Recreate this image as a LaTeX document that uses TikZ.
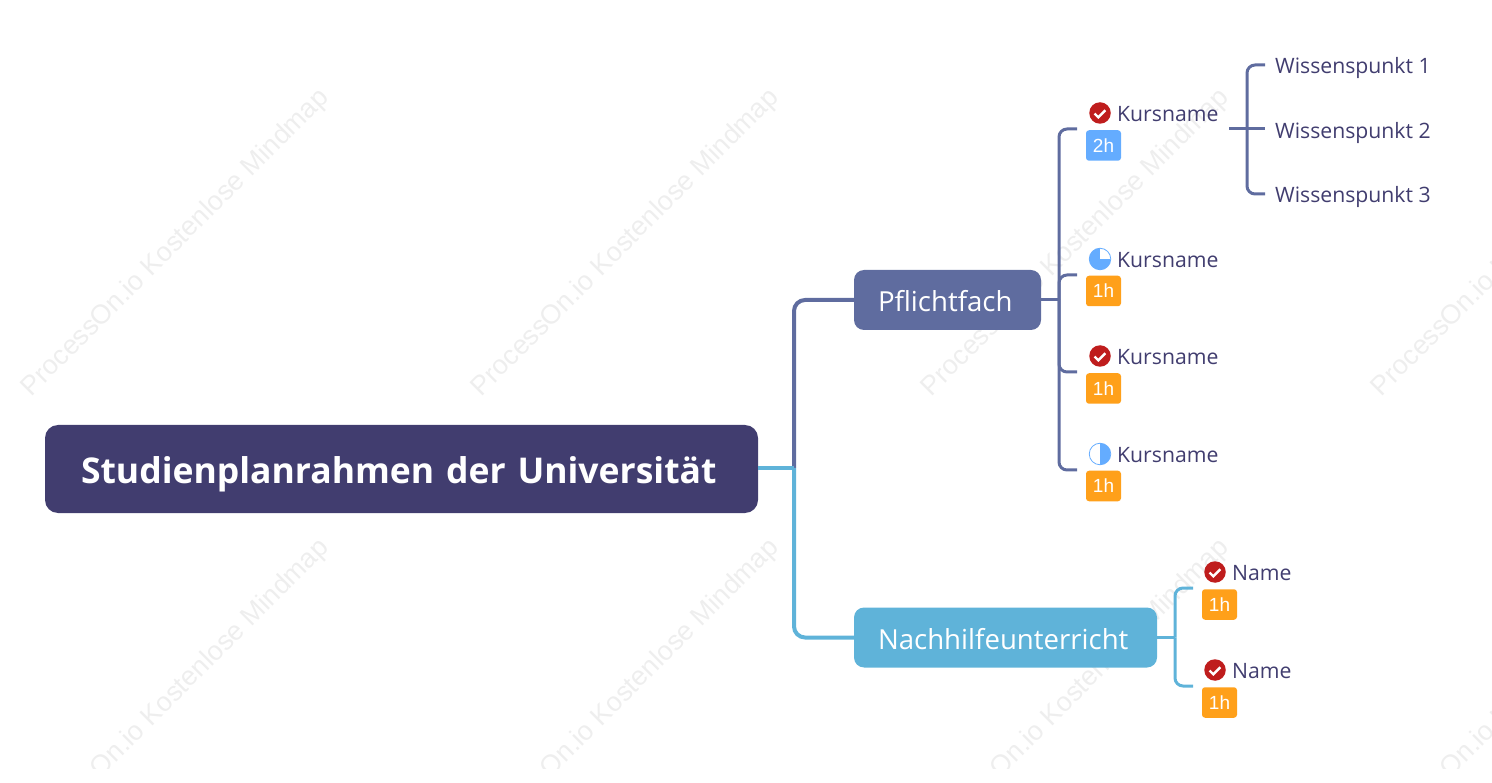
\documentclass[tikz,border=0pt]{standalone}
\usepackage{fontspec}
\setmainfont{Open Sans}
\newfontfamily\badgefont{Liberation Sans}
\definecolor{rootcol}{HTML}{413D6F}
\definecolor{pfcol}{HTML}{5F6C9F}
\definecolor{nhcol}{HTML}{5FB3D9}
\definecolor{okred}{HTML}{BF1D1D}
\definecolor{progblue}{HTML}{64ACFF}
\definecolor{badgeorange}{HTML}{FFA01A}
\definecolor{markgray}{HTML}{EEEEEE}
\tikzset{
  rootbox/.style={fill=rootcol,rounded corners=13pt,text=white,font=\fontsize{35.5}{40}\selectfont\bfseries,minimum width=713pt,minimum height=88pt,inner sep=0pt,text width=641pt,align=left,text height=28pt,text depth=0pt},
  mainbox/.style={rounded corners=10pt,text=white,font=\fontsize{27.6}{34}\selectfont,minimum height=60pt,inner sep=0pt,align=left,text height=23pt,text depth=0pt},
  itemtext/.style={anchor=west,inner sep=0pt,text=rootcol,font=\fontsize{21.2}{26}\selectfont,text height=17.5pt,text depth=0pt},
  hourbadge/.style={rounded corners=3pt,text=white,font=\badgefont\fontsize{19}{22}\selectfont,minimum width=35pt,minimum height=30.5pt,inner sep=0pt},
  iconbase/.style={circle,minimum size=21.5pt,inner sep=0pt},
  iconok/.style={iconbase,fill=okred,path picture={
    \draw[white,line width=2.4pt] ([shift={(-5.5,0.5)}]path picture bounding box.center) -- ++(3.8,3.8) -- ++(7,-7);}},
  iconquarter/.style={iconbase,fill=white,draw=progblue,line width=0.8pt,path picture={
    \fill[progblue] (path picture bounding box.south west) rectangle (path picture bounding box.east);
    \fill[progblue] (path picture bounding box.north west) rectangle (path picture bounding box.center);}},
  iconhalf/.style={iconbase,fill=white,draw=progblue,line width=0.8pt,path picture={
    \fill[progblue] (path picture bounding box.north) rectangle (path picture bounding box.south east);}},
  bigline/.style={line width=4pt,rounded corners=11pt},
  pfline/.style={pfcol,line width=3pt,rounded corners=8pt},
  nhline/.style={nhcol,line width=3pt,rounded corners=8pt},
  watermark/.style={text=markgray,font=\badgefont\fontsize{27}{30}\selectfont,rotate=45}
}
\begin{document}
\begin{tikzpicture}[x=1pt,y=-1pt]
  \useasboundingbox (0,0) rectangle (1492,783);

  % watermark
  \begin{scope}
    \clip (0,0) rectangle (1492,768);
    \foreach \wy in {243,693}
      \foreach \wx in {176,626,1076,1526}
        \node[watermark] (mark\wx\wy) at (\wx,\wy) {ProcessOn.io Kostenlose Mindmap};
  \end{scope}

  % main boxes
  \node[rootbox] (root) at (401.5,469) {Studienplanrahmen der Universität};
  \node[mainbox,fill=pfcol,minimum width=187pt,text width=139pt] (pflicht) at (947.5,300) {Pflichtfach};
  \node[mainbox,fill=nhcol,minimum width=303pt,text width=255pt] (nachhilfe) at (1005.5,637.5) {Nachhilfeunterricht};
  \coordinate (hub) at (794,468);

  % kurs 1
  \node[iconok] (icon1) at (1100,113) {};
  \node[itemtext] (kurs1) at (1117,113) {Kursname};
  \node[hourbadge,fill=progblue] (badge1) at (1103.5,145.5) {2h};
  % kurs 2
  \node[iconquarter] (icon2) at (1100,259) {};
  \node[itemtext] (kurs2) at (1117,259) {Kursname};
  \node[hourbadge,fill=badgeorange] (badge2) at (1103.5,291) {1h};
  % kurs 3
  \node[iconok] (icon3) at (1100,356) {};
  \node[itemtext] (kurs3) at (1117,356) {Kursname};
  \node[hourbadge,fill=badgeorange] (badge3) at (1103.5,388.5) {1h};
  % kurs 4
  \node[iconhalf] (icon4) at (1100,454) {};
  \node[itemtext] (kurs4) at (1117,454) {Kursname};
  \node[hourbadge,fill=badgeorange] (badge4) at (1103.5,486) {1h};

  % wissenspunkte
  \node[itemtext] (wissen1) at (1275,65) {Wissenspunkt 1};
  \node[itemtext] (wissen2) at (1275,130) {Wissenspunkt 2};
  \node[itemtext] (wissen3) at (1275,194) {Wissenspunkt 3};

  % name
  \node[iconok] (icon5) at (1215,572) {};
  \node[itemtext] (name1) at (1232,572) {Name};
  \node[hourbadge,fill=badgeorange] (badge5) at (1219.5,604.5) {1h};
  \node[iconok] (icon6) at (1215,670) {};
  \node[itemtext] (name2) at (1232,670) {Name};
  \node[hourbadge,fill=badgeorange] (badge6) at (1219.5,702.5) {1h};

  % free ends of the lines
  \coordinate (pfjoin) at (1059,300);
  \coordinate (end1) at (1077,129);
  \coordinate (end2) at (1077,275);
  \coordinate (end3) at (1077,372);
  \coordinate (end4) at (1077,470);
  \coordinate (wstart) at (1229,129);
  \coordinate (wjoin) at (1247,129);
  \coordinate (wend1) at (1265,65);
  \coordinate (wend2) at (1265,129);
  \coordinate (wend3) at (1265,194);
  \coordinate (nhjoin) at (1175,637.5);
  \coordinate (nend1) at (1193,588);
  \coordinate (nend2) at (1193,686);

  % lines
  \draw[bigline,pfcol] (hub) |- (pflicht.west);
  \draw[bigline,nhcol] (hub) |- (nachhilfe.west);
  \draw[line width=4pt,nhcol] (root.east |- hub) -- (hub);

  \draw[pfline] (pflicht.east) -- (pfjoin);
  \draw[pfline] (pfjoin) |- (end1);
  \draw[pfline] (pfjoin) |- (end2);
  \draw[pfline] (pfjoin) |- (end3);
  \draw[pfline] (pfjoin) |- (end4);

  \draw[pfline] (wstart) -- (wend2);
  \draw[pfline] (wjoin) |- (wend1);
  \draw[pfline] (wjoin) |- (wend3);

  \draw[nhline] (nachhilfe.east) -- (nhjoin);
  \draw[nhline] (nhjoin) |- (nend1);
  \draw[nhline] (nhjoin) |- (nend2);
\end{tikzpicture}
\end{document}
